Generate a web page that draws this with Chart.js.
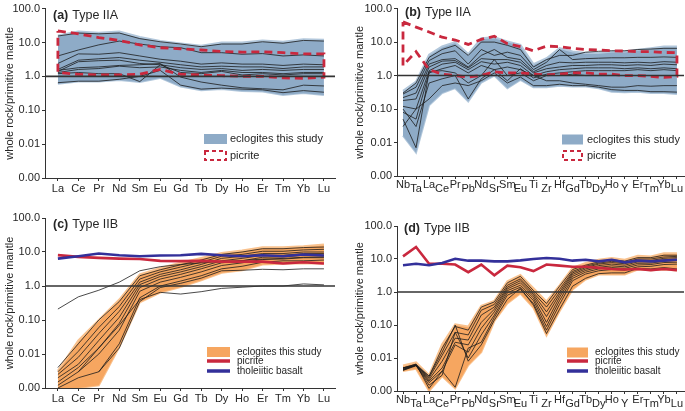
<!DOCTYPE html>
<html>
<head>
<meta charset="utf-8">
<script src="https://cdn.jsdelivr.net/npm/chart.js@4.4.1/dist/chart.umd.min.js"></script>
<style>
html, body { margin: 0; padding: 0; background: #fff; }
#wrap { position: relative; width: 685px; height: 411px; overflow: hidden; }
.p { position: absolute; }
</style>
</head>
<body>
<div id="wrap">
  <div class="p" style="left:0;top:0;width:342px;height:205px"><canvas id="cA"></canvas></div>
  <div class="p" style="left:342px;top:0;width:343px;height:205px"><canvas id="cB"></canvas></div>
  <div class="p" style="left:0;top:205px;width:342px;height:206px"><canvas id="cC"></canvas></div>
  <div class="p" style="left:342px;top:205px;width:343px;height:206px"><canvas id="cD"></canvas></div>
</div>
<script>
// element orders
var ree = ['La', 'Ce', 'Pr', 'Nd', 'Sm', 'Eu', 'Gd', 'Tb', 'Dy', 'Ho', 'Er', 'Tm', 'Yb', 'Lu'];
var spider = ['Nb', 'Ta', 'La', 'Ce', 'Pr', 'Pb', 'Nd', 'Sr', 'Sm', 'Eu', 'Ti', 'Zr', 'Hf', 'Gd', 'Tb', 'Dy', 'Ho', 'Y', 'Er', 'Tm', 'Yb', 'Lu'];

// y ticks
var yTickValues = [0.001, 0.01, 0.1, 1, 10, 100];
var yTickLabels = ['0.00', '0.01', '0.10', '1.0', '10.0', '100.0'];

// (a) Type IIA, REE
var aBandTop = [16, 21, 19.5, 21, 14.5, 11, 9.3, 8, 10, 10, 11.4, 10.5, 12.5, 12];
var aBandBottom = [0.6, 0.7, 0.7, 0.78, 0.68, 0.9, 0.5, 0.39, 0.42, 0.37, 0.36, 0.28, 0.32, 0.28];
var aPicriteTop = [22, 18, 14, 11.5, 8.5, 7, 6.5, 6, 5.4, 5.2, 5.3, 5, 4.6, 4.6];
var aPicriteBottom = [1.3, 1.15, 1.1, 1.1, 1.15, 1.6, 1.15, 1.1, 1.05, 1.0, 1.0, 0.9, 0.88, 0.95];
var aSamples = [
    [15.5, 19, 18, 19, 13, 10.5, 9, 7.5, 9, 9, 10.5, 9.5, 11.5, 11],
    [4, 6, 8.5, 11, 9, 7.5, 7, 5, 5, 4.5, 4.7, 4, 4.3, 4],
    [2.4, 4.6, 4.5, 5, 4, 3.2, 2.8, 2.3, 2.5, 2.3, 2.3, 2.1, 2.3, 2.2],
    [1.6, 3, 3.3, 3.6, 3, 2.6, 2.2, 1.9, 2, 1.9, 1.9, 1.7, 1.9, 1.9],
    [1.4, 2.7, 2.9, 3, 2.4, 2.2, 1.8, 1.6, 1.7, 1.5, 1.6, 1.5, 1.6, 1.6],
    [1.3, 1.6, 1.7, 2, 1.8, 1.9, 1.5, 1.3, 1.5, 1.3, 1.3, 1.2, 1.3, 1.3],
    [1.2, 1.3, 1.2, 1.2, 0.7, 2.2, 1.3, 1.2, 1.4, 1.1, 1.2, 1.1, 1.2, 1.2],
    [1.5, 1.8, 1.9, 2.1, 2.2, 2.4, 0.95, 0.68, 0.55, 0.46, 0.43, 0.4, 0.55, 0.52],
    [0.65, 0.72, 0.72, 0.82, 1.0, 1.5, 0.55, 0.42, 0.45, 0.42, 0.4, 0.33, 0.38, 0.34]
];

// (b) Type IIA, spider
var bBandTop = [0.35, 0.66, 4.2, 7.4, 10, 4.4, 13, 14, 10.5, 8.3, 2.2, 3.3, 6.6, 5.2, 4.7, 4.7, 5.2, 5.2, 5.9, 6.6, 7.4, 7.4];
var bBandBottom = [0.016, 0.005, 0.13, 0.3, 0.42, 0.17, 0.62, 1.0, 0.42, 0.74, 0.45, 0.45, 0.5, 0.47, 0.47, 0.42, 0.33, 0.32, 0.33, 0.3, 0.3, 0.28];
var bPicriteTop = [40, 28, 20, 14, 11.5, 8.5, 12, 15, 9, 7.3, 5.5, 7.6, 7.3, 6.5, 6, 5.8, 5.5, 5.4, 5.2, 5.2, 4.9, 4.8];
var bPicriteBottom = [2, 5.2, 1.5, 1.1, 1.0, 0.9, 1.0, 1.3, 1.2, 1.2, 1.1, 1.05, 1.1, 1.2, 1.2, 1.1, 1.1, 1.0, 1.0, 0.95, 0.88, 0.95];
var bSamples = [
    [0.3, 0.6, 3.5, 6, 8, 4, 10, 10, 8, 6, 1.8, 3, 4, 4, 5, 5.3, 5.5, 5.5, 6, 6.2, 6.5, 6.5],
    [0.28, 0.45, 2.8, 4.5, 5.5, 2.2, 6, 4, 5, 4, 1.5, 2.5, 6, 3, 3.2, 3.3, 3.4, 3.4, 3.5, 3.5, 3.6, 3.5],
    [0.22, 0.3, 2.2, 3, 3.2, 1.8, 4, 6, 3.5, 3, 1.3, 2, 2.5, 2.4, 2.5, 2.5, 2.5, 2.4, 2.5, 2.4, 2.6, 2.5],
    [0.18, 0.2, 1.8, 2.7, 2.8, 1.7, 3.2, 3, 3, 2.5, 1.2, 1.6, 1.8, 2, 2, 2.1, 2.1, 2, 2.1, 2, 2.2, 2.1],
    [0.12, 0.1, 1.4, 2.2, 2.5, 1.5, 2.6, 2.2, 2.5, 2, 1.0, 1.3, 1.5, 1.6, 1.7, 1.7, 1.7, 1.6, 1.7, 1.6, 1.7, 1.6],
    [0.08, 0.05, 1.2, 1.6, 2, 1.2, 2, 1.5, 0.7, 1.6, 0.85, 1.1, 1.2, 1.3, 1.4, 1.4, 1.4, 1.4, 1.5, 1.4, 1.5, 1.4],
    [0.05, 0.007, 1.3, 1.4, 1.2, 0.6, 1.0, 3, 1.0, 1.2, 0.7, 1.0, 1.0, 1.1, 1.0, 1.0, 1.0, 1.0, 1.0, 1.0, 1.0, 1.0],
    [0.1, 0.03, 0.6, 0.8, 1.0, 0.2, 0.8, 1.5, 1.8, 1.5, 1.0, 0.7, 0.7, 0.6, 0.55, 0.5, 0.45, 0.45, 0.5, 0.48, 0.5, 0.5],
    [0.03, 0.1, 0.2, 0.5, 0.6, 0.5, 0.7, 1.2, 0.6, 0.9, 0.5, 0.5, 0.55, 0.5, 0.5, 0.45, 0.38, 0.36, 0.36, 0.33, 0.33, 0.32]
];

// (c) Type IIB, REE
var cBandTop = [0.0032, 0.025, 0.1, 0.4, 2.2, 3.4, 4.8, 6.7, 9.4, 11, 13.8, 13.8, 14.8, 16.5];
var cBandBottom = [0.001, 0.001, 0.0012, 0.016, 0.33, 0.64, 0.93, 1.47, 2.45, 2.9, 4.3, 4.5, 4.7, 4.5];
var cPicrite = [8.1, 7.2, 6.7, 6.4, 6.2, 5.5, 5.4, 5.5, 5.2, 5.2, 5.2, 4.6, 5.0, 4.6];
var cBasalt = [6.4, 7.5, 9, 8, 7.5, 7.9, 8, 8.8, 8, 7.5, 8, 7.5, 8.4, 7.9];
var cSamples = [
    [0.21, 0.48, 0.75, 1.3, 2.8, 3.7, 4.3, 4.8, 5.3, 5.6, 6.2, 6.2, 6.8, 6.8],
    [0.004, 0.02, 0.1, 0.35, 2.0, 3.0, 4.2, 5.8, 8.5, 10, 12.5, 12.5, 13.5, 14],
    [0.003, 0.012, 0.06, 0.25, 1.6, 2.6, 3.6, 5.0, 7.5, 8.5, 10.5, 10.5, 11.5, 12],
    [0.0025, 0.008, 0.04, 0.18, 1.3, 2.2, 3.0, 4.3, 6.5, 7.5, 9, 9, 10, 10],
    [0.002, 0.005, 0.025, 0.12, 1.1, 1.9, 2.6, 3.7, 5.5, 6.5, 8, 8, 9, 9],
    [0.0015, 0.004, 0.015, 0.08, 0.9, 1.6, 2.2, 3.2, 4.8, 5.5, 7, 7.2, 8, 8],
    [0.0012, 0.003, 0.01, 0.05, 0.7, 1.3, 1.8, 2.6, 4.0, 4.8, 6, 6.5, 7, 7.2],
    [0.001, 0.002, 0.003, 0.02, 0.45, 1.0, 1.4, 2.0, 3.2, 3.8, 5, 5.5, 5.5, 5.8],
    [null, 0.003, 0.015, 0.07, 0.4, 0.65, 0.58, 0.68, 0.85, 0.92, 1.0, 1.0, 1.15, 1.08],
    [null, null, 0.003, 0.015, 0.35, 0.9, 1.2, 1.7, 2.8, 2.9, 3.1, 3.0, 3.2, 3.2]
];

// (d) Type IIB, spider
var dBandTop = [0.0059, 0.0074, 0.003, 0.026, 0.105, 0.09, 0.38, 0.54, 2.1, 3.3, 1.3, 0.52, 1.6, 5.4, 7.6, 9.5, 10.7, 9.5, 12.6, 12, 15, 15];
var dBandBottom = [0.004, 0.0047, 0.001, 0.0028, 0.0012, 0.006, 0.015, 0.13, 0.45, 0.9, 0.33, 0.048, 0.26, 1.2, 2.4, 3.4, 3.4, 3.4, 4.8, 4.6, 4.8, 4.5];
var dPicrite = [12, 23, 7.2, 7.2, 6.8, 4, 6.8, 3.2, 6.3, 5.6, 4.3, 6.8, 6.3, 5.8, 5.8, 5.4, 5, 4.8, 5, 4.6, 5, 4.6];
var dBasalt = [6.5, 7.2, 6.5, 7.6, 10.2, 8.9, 8.9, 8.5, 8.5, 9.1, 10, 10.7, 10.2, 8.9, 9.5, 8.5, 9.5, 7.9, 8.9, 8.5, 8.9, 9.5];
var dSamples = [
    [0.005, 0.0065, 0.0028, 0.02, 0.09, 0.07, 0.35, 0.5, 1.9, 3.0, 1.1, 0.45, 1.5, 4.8, 6.5, 8.2, 9.5, 8.6, 11, 11, 13, 13],
    [0.0048, 0.006, 0.0025, 0.012, 0.06, 0.05, 0.28, 0.42, 1.6, 2.5, 0.95, 0.35, 1.2, 4.2, 6.0, 7.5, 8.5, 7.8, 10, 10, 11.5, 12],
    [0.0045, 0.0062, 0.0022, 0.008, 0.04, 0.035, 0.2, 0.35, 1.4, 2.2, 0.85, 0.25, 1.0, 3.8, 5.5, 7.0, 7.8, 7.2, 9, 9, 10.5, 11],
    [0.005, 0.006, 0.002, 0.005, 0.03, 0.025, 0.12, 0.3, 1.25, 1.9, 0.75, 0.18, 0.85, 3.4, 5.0, 6.3, 7.0, 6.5, 8.2, 8.3, 9.5, 10],
    [0.0042, 0.0058, 0.0018, 0.004, 0.025, 0.015, 0.08, 0.25, 1.1, 1.6, 0.65, 0.12, 0.7, 3.0, 4.5, 5.6, 6.2, 5.8, 7.4, 7.5, 8.6, 9],
    [0.0045, 0.006, 0.0015, 0.003, 0.06, 0.01, 0.05, 0.2, 0.95, 1.4, 0.55, 0.09, 0.55, 2.6, 4.0, 5.0, 5.5, 5.2, 6.6, 6.8, 7.8, 8],
    [0.005, 0.0065, 0.0012, 0.004, 0.0013, 0.02, 0.03, 0.17, 0.8, 1.2, 0.45, 0.07, 0.42, 2.2, 3.5, 4.4, 4.8, 4.6, 5.8, 6.0, 6.8, 7],
    [0.0043, 0.006, 0.0028, 0.015, 0.1, 0.008, 0.025, 0.14, 0.6, 1.3, 0.4, 0.055, 0.3, 1.5, 2.6, 3.6, 3.8, 3.8, 5.2, 5.0, 5.5, 5]
];

// colours
var blueBand = '#8eabc7', blueEdge = '#b2c7db';
var orangeBand = '#f6a660', orangeEdge = '#f9c28e';
var red = '#c9283e', navy = '#33309a', ink = '#262626';
var font = '"Liberation Sans", Arial, Helvetica, sans-serif';

function pts(arr) {
    var out = [];
    arr.forEach(function (v, i) { if (v !== null) out.push({ x: i, y: v }); });
    return out;
}

// closed outline: top left->right, bottom right->left, back to start
function ring(top, bottom) {
    var p = pts(top);
    for (var i = bottom.length - 1; i >= 0; i--) p.push({ x: i, y: bottom[i] });
    p.push({ x: 0, y: top[0] });
    return p;
}

// titles, x labels, legend
var deco = {
    id: 'deco',
    afterDraw: function (chart, args, o) {
        var ctx = chart.ctx, xs = chart.scales.x, area = chart.chartArea;
        ctx.save();
        ctx.fillStyle = ink;
        ctx.textBaseline = 'middle';
        ctx.textAlign = 'center';
        ctx.font = '11px ' + font;
        o.labels.forEach(function (t, i) {
            var dy = o.stagger ? (i % 2 ? 12.5 : 9) : 11;
            ctx.fillText(t, xs.getPixelForValue(i), area.bottom + dy);
        });
        ctx.textAlign = 'left';
        ctx.font = 'bold 12.5px ' + font;
        ctx.fillText(o.tag, o.tx, o.ty);
        var w = ctx.measureText(o.tag).width + 4;
        ctx.font = '12.5px ' + font;
        ctx.fillText(o.title, o.tx + w, o.ty);

        ctx.font = o.lfont + 'px ' + font;
        o.legend.forEach(function (it) {
            var x = o.lx, y = it.y;
            if (it.kind === 'band') {
                ctx.fillStyle = it.color;
                ctx.fillRect(x, y - 5, o.lw, 10);
            } else if (it.kind === 'dash') {
                ctx.strokeStyle = it.color;
                ctx.lineWidth = 2;
                ctx.setLineDash([4, 3]);
                ctx.strokeRect(x + 1, y - 4.5, o.lw - 2, 9);
                ctx.setLineDash([]);
            } else {
                ctx.strokeStyle = it.color;
                ctx.lineWidth = 3.5;
                ctx.beginPath();
                ctx.moveTo(x, y);
                ctx.lineTo(x + o.lw, y);
                ctx.stroke();
            }
            ctx.fillStyle = ink;
            ctx.fillText(it.text, o.tx2, y);
        });
        ctx.restore();
    }
};

function makePanel(id, p) {
    var ds = [];
    // reference line at 1.0 (first = drawn on top)
    ds.push({ data: [{ x: p.xMin, y: 1 }, { x: p.xMax, y: 1 }], borderColor: '#333', borderWidth: 1.6 });
    if (p.basalt) ds.push({ data: pts(p.basalt), borderColor: navy, borderWidth: 2.6 });
    if (p.picrite) ds.push({ data: pts(p.picrite), borderColor: red, borderWidth: 2.6 });
    if (p.picriteRing) ds.push({ data: p.picriteRing, borderColor: red, borderWidth: 2.8, borderDash: [8, 5] });
    p.samples.forEach(function (s) {
        ds.push({ data: pts(s), borderColor: '#1c1c1c', borderWidth: 0.8 });
    });
    ds.push({ data: pts(p.bandTop), borderColor: p.edge, borderWidth: 2, backgroundColor: p.band, fill: '+1' });
    ds.push({ data: pts(p.bandBottom), borderColor: p.edge, borderWidth: 2, fill: false });

    new Chart(document.getElementById(id), {
        type: 'line',
        data: { datasets: ds },
        options: {
            responsive: true,
            maintainAspectRatio: false,
            animation: false,
            layout: { padding: { left: 0, top: p.top, right: p.right, bottom: 0 } },
            elements: { point: { radius: 0 }, line: { tension: 0 } },
            plugins: {
                legend: { display: false },
                tooltip: { enabled: false },
                deco: p.deco
            },
            scales: {
                x: {
                    type: 'linear',
                    min: p.xMin,
                    max: p.xMax,
                    afterBuildTicks: function (s) {
                        s.ticks = p.labels.map(function (t, i) { return { value: i }; });
                    },
                    afterFit: function (s) { s.height = p.xh; },
                    ticks: { display: false },
                    grid: { drawOnChartArea: false, drawTicks: true, tickLength: 3, color: '#333' },
                    border: { display: true, color: '#333', width: 1 }
                },
                y: {
                    type: 'logarithmic',
                    min: 0.001,
                    max: 100,
                    afterBuildTicks: function (s) {
                        s.ticks = yTickValues.map(function (v) { return { value: v }; });
                    },
                    afterFit: function (s) { s.width = p.yw; },
                    ticks: {
                        autoSkip: false,
                        padding: 2,
                        color: ink,
                        font: { family: font, size: 11 },
                        callback: function (v) {
                            var i = yTickValues.indexOf(v);
                            return i >= 0 ? yTickLabels[i] : '';
                        }
                    },
                    title: {
                        display: true,
                        text: 'whole rock/primitive mantle',
                        color: ink,
                        font: { family: font, size: 11 },
                        padding: { top: p.titlePad, bottom: 0 }
                    },
                    grid: { drawOnChartArea: false, drawTicks: true, tickLength: 3, color: '#333' },
                    border: { display: true, color: '#333', width: 1 }
                }
            }
        },
        plugins: [deco]
    });
}

makePanel('cA', {
    labels: ree, xMin: -0.63, xMax: 13.54, top: 7, right: 7, xh: 27, yw: 45, titlePad: 3,
    bandTop: aBandTop, bandBottom: aBandBottom, band: blueBand, edge: blueEdge,
    picriteRing: ring(aPicriteTop, aPicriteBottom), samples: aSamples,
    deco: {
        labels: ree, stagger: false, tag: '(a)', title: 'Type IIA', tx: 53, ty: 16,
        lx: 204, lw: 23, tx2: 230, lfont: 11,
        legend: [
            { kind: 'band', color: blueBand, y: 139, text: 'eclogites this study' },
            { kind: 'dash', color: red, y: 155.5, text: 'picrite' }
        ]
    }
});

makePanel('cB', {
    labels: spider, xMin: -0.46, xMax: 21.54, top: 8, right: 1, xh: 29, yw: 55, titlePad: 11,
    bandTop: bBandTop, bandBottom: bBandBottom, band: blueBand, edge: blueEdge,
    picriteRing: ring(bPicriteTop, bPicriteBottom), samples: bSamples,
    deco: {
        labels: spider, stagger: true, tag: '(b)', title: 'Type IIA', tx: 63, ty: 13,
        lx: 220, lw: 21, tx2: 245, lfont: 11,
        legend: [
            { kind: 'band', color: blueBand, y: 139.5, text: 'eclogites this study' },
            { kind: 'dash', color: red, y: 155.5, text: 'picrite' }
        ]
    }
});

makePanel('cC', {
    labels: ree, xMin: -0.63, xMax: 13.54, top: 13, right: 7, xh: 23, yw: 45, titlePad: 3,
    bandTop: cBandTop, bandBottom: cBandBottom, band: orangeBand, edge: orangeEdge,
    picrite: cPicrite, basalt: cBasalt, samples: cSamples,
    deco: {
        labels: ree, stagger: false, tag: '(c)', title: 'Type IIB', tx: 53, ty: 20,
        lx: 207, lw: 23, tx2: 237, lfont: 10,
        legend: [
            { kind: 'band', color: orangeBand, y: 147, text: 'eclogites this study' },
            { kind: 'line', color: red, y: 156, text: 'picrite' },
            { kind: 'line', color: navy, y: 166, text: 'tholeiitic basalt' }
        ]
    }
});

makePanel('cD', {
    labels: spider, xMin: -0.46, xMax: 21.54, top: 21, right: 1, xh: 20, yw: 55, titlePad: 11,
    bandTop: dBandTop, bandBottom: dBandBottom, band: orangeBand, edge: orangeEdge,
    picrite: dPicrite, basalt: dBasalt, samples: dSamples,
    deco: {
        labels: spider, stagger: true, tag: '(d)', title: 'Type IIB', tx: 62, ty: 24,
        lx: 225, lw: 21, tx2: 253, lfont: 10,
        legend: [
            { kind: 'band', color: orangeBand, y: 147.5, text: 'eclogites this study' },
            { kind: 'line', color: red, y: 156, text: 'picrite' },
            { kind: 'line', color: navy, y: 166, text: 'tholeiitic basalt' }
        ]
    }
});
</script>
</body>
</html>
